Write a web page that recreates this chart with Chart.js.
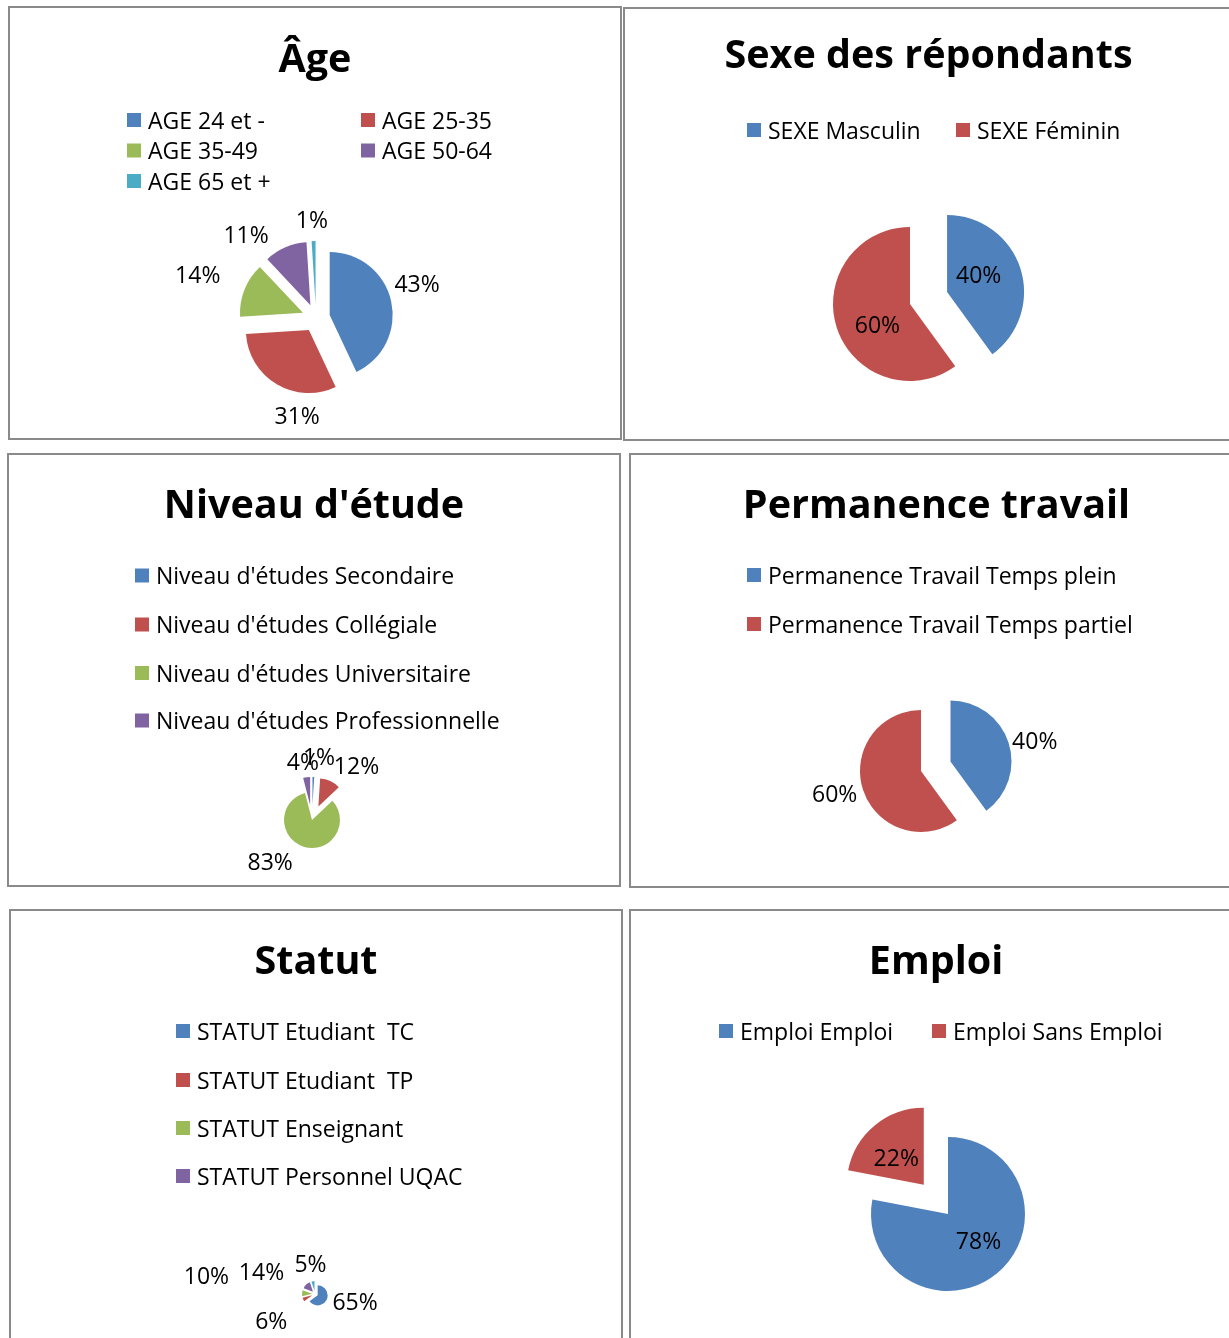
<!DOCTYPE html>
<html lang="fr">
<head>
  <meta charset="UTF-8">
  <title>Profil des répondants</title>
  <script src="https://cdn.jsdelivr.net/npm/chart.js"></script>
  <style>
    body { margin: 0; background: #fff; width: 1229px; height: 1338px; overflow: hidden; position: relative; }
    .panel { position: absolute; box-sizing: border-box; border: 2px solid #8a8a8a; background: #fff; }
    .panel canvas { position: absolute; left: 0; top: 0; }
  </style>
</head>
<body>
  <div class="panel" id="pAge" style="left:8px;top:6px;width:614px;height:434px"><canvas id="ageChart"></canvas></div>
  <div class="panel" id="pSexe" style="left:623px;top:7px;width:614px;height:434px"><canvas id="sexeChart"></canvas></div>
  <div class="panel" id="pNiveau" style="left:7px;top:453px;width:614px;height:434px"><canvas id="niveauChart"></canvas></div>
  <div class="panel" id="pPerm" style="left:629px;top:453px;width:614px;height:435px"><canvas id="permChart"></canvas></div>
  <div class="panel" id="pStatut" style="left:9px;top:909px;width:614px;height:440px"><canvas id="statutChart"></canvas></div>
  <div class="panel" id="pEmploi" style="left:629px;top:909px;width:614px;height:440px"><canvas id="emploiChart"></canvas></div>

<script>
  // values (percent)
  const ageLabels = ['AGE 24 et -', 'AGE 25-35', 'AGE 35-49', 'AGE 50-64', 'AGE 65 et +'];
  const ageValues = [43, 31, 14, 11, 1];

  const sexeLabels = ['SEXE Masculin', 'SEXE Féminin'];
  const sexeValues = [40, 60];

  const niveauLabels = ["Niveau d'études Secondaire", "Niveau d'études Collégiale",
                        "Niveau d'études Universitaire", "Niveau d'études Professionnelle"];
  const niveauValues = [1, 12, 83, 4];

  const permLabels = ['Permanence Travail Temps plein', 'Permanence Travail Temps partiel'];
  const permValues = [40, 60];

  // the fifth slice has no legend entry in the original
  const statutLabels = ['STATUT Etudiant  TC', 'STATUT Etudiant  TP', 'STATUT Enseignant', 'STATUT Personnel UQAC'];
  const statutValues = [65, 6, 10, 14, 5];

  const emploiLabels = ['Emploi Emploi', 'Emploi Sans Emploi'];
  const emploiValues = [78, 22];

  const palette = ['#4F81BD', '#C0504D', '#9BBB59', '#8064A2', '#4BACC6'];
  const FONT = '"Open Sans", Lato, sans-serif';

  // pulls slices away from the centre (Excel style explosion)
  const explodePlugin = {
    id: 'explode',
    beforeDatasetDraw(chart, args, opts) {
      const ctx = chart.ctx;
      args.meta.data.forEach((arc, i) => {
        const t = (opts.shift || [])[i] || 0;
        const mid = (arc.startAngle + arc.endAngle) / 2;
        ctx.save();
        ctx.translate(Math.cos(mid) * t, Math.sin(mid) * t);
        arc.draw(ctx, chart.chartArea);
        ctx.restore();
      });
      return false;
    }
  };

  // percent labels next to / inside the slices
  const pctPlugin = {
    id: 'pct',
    afterDatasetsDraw(chart, args, opts) {
      const ctx = chart.ctx;
      const meta = chart.getDatasetMeta(0);
      const values = chart.data.datasets[0].data;
      const total = values.reduce((a, b) => a + b, 0);
      const shift = chart.options.plugins.explode.shift || [];
      ctx.save();
      ctx.font = opts.size + 'px ' + FONT;
      ctx.fillStyle = '#000';
      ctx.textAlign = 'center';
      ctx.textBaseline = 'alphabetic';
      const capH = ctx.measureText('0').actualBoundingBoxAscent;
      meta.data.forEach((arc, i) => {
        const mid = (arc.startAngle + arc.endAngle) / 2;
        const dx = Math.cos(mid), dy = Math.sin(mid);
        const t = shift[i] || 0;
        const txt = Math.round(values[i] / total * 100) + '%';
        const w = ctx.measureText(txt).width;
        let x, y;
        if (opts.mode === 'inside') {
          const d = t + arc.outerRadius * opts.k;
          x = arc.x + dx * d;
          y = arc.y + dy * d;
        } else {
          const d = t + arc.outerRadius + opts.gap;
          x = arc.x + dx * d + dx * w / 2;
          y = arc.y + dy * d + dy * capH / 2;
        }
        // Excel "best fit" moves some labels around; small per-label nudges
        const n = (opts.nudge || [])[i] || [0, 0];
        ctx.fillText(txt, x + n[0], y + n[1] + capH / 2);
      });
      ctx.restore();
    }
  };

  // title and legend, drawn on the chart canvas
  const panelTextPlugin = {
    id: 'panelText',
    afterDraw(chart, args, opts) {
      const ctx = chart.ctx;
      const ox = opts.origin[0], oy = opts.origin[1];
      ctx.save();
      ctx.fillStyle = '#000';
      ctx.textBaseline = 'alphabetic';
      ctx.font = 'bold ' + opts.titleSize + 'px ' + FONT;
      ctx.textAlign = 'center';
      ctx.fillText(opts.title, opts.titleX - ox, opts.titleY - oy);

      ctx.font = opts.legendSize + 'px ' + FONT;
      ctx.textAlign = 'left';
      const capH = ctx.measureText('H').actualBoundingBoxAscent;
      const box = 14;
      const cols = opts.legendX.length;
      const colors = chart.data.datasets[0].backgroundColor;
      chart.data.labels.forEach((lab, i) => {
        const bx = opts.legendX[i % cols] - ox;
        const cy = opts.legendY[Math.floor(i / cols)] - oy;
        ctx.fillStyle = colors[i];
        ctx.fillRect(bx, cy - box / 2, box, box);
        ctx.fillStyle = '#000';
        ctx.fillText(lab, bx + box + 7, cy + capH / 2);
      });
      ctx.restore();
    }
  };

  const createPie = (id, panelId, labels, values, cfg) => {
    const panel = document.getElementById(panelId);
    const W = panel.clientWidth, H = panel.clientHeight;
    const ox = panel.offsetLeft + panel.clientLeft, oy = panel.offsetTop + panel.clientTop;
    const canvas = document.getElementById(id);
    canvas.width = W;
    canvas.height = H;
    const cx = cfg.center[0] - ox, cy = cfg.center[1] - oy;
    new Chart(canvas.getContext('2d'), {
      type: 'pie',
      data: {
        labels: labels,
        datasets: [{
          data: values,
          backgroundColor: palette.slice(0, values.length),
          borderWidth: 0
        }]
      },
      options: {
        responsive: false,
        animation: false,
        radius: cfg.radius,
        layout: {
          padding: {
            left: Math.max(0, 2 * cx - W), right: Math.max(0, W - 2 * cx),
            top: Math.max(0, 2 * cy - H), bottom: Math.max(0, H - 2 * cy)
          }
        },
        plugins: {
          legend: { display: false },
          tooltip: { enabled: false },
          explode: { shift: cfg.shift },
          pct: Object.assign({ size: 23, gap: 6, k: 0.5 }, cfg.pct),
          panelText: Object.assign({ origin: [ox, oy], titleSize: 39.5, legendSize: 23 }, cfg.text)
        }
      },
      plugins: [explodePlugin, pctPlugin, panelTextPlugin]
    });
  };

  window.onload = () => {
    createPie('ageChart', 'pAge', ageLabels, ageValues, {
      center: [316, 318], radius: 63, shift: [14, 14, 14, 14, 14],
      pct: { mode: 'outside', nudge: [[-2, -15], [35, 19], [-20, -10], [-28, 0], [-1, -7]] },
      text: { title: 'Âge', titleX: 315, titleY: 72, legendX: [127, 361], legendY: [120, 150.5, 181] }
    });
    createPie('sexeChart', 'pSexe', sexeLabels, sexeValues, {
      center: [910, 304], radius: 77, shift: [39, 0],
      pct: { mode: 'inside', k: 0.5, nudge: [[-5, -6], [4, 9]] },
      text: { title: 'Sexe des répondants', titleX: 928.5, titleY: 68, legendX: [747, 956], legendY: [130] }
    });
    createPie('niveauChart', 'pNiveau', niveauLabels, niveauValues, {
      center: [312, 820], radius: 28, shift: [15, 15, 0, 15],
      pct: { mode: 'outside', nudge: [[5, -6], [14, -2], [-26, 1], [-1, -1]] },
      text: { title: "Niveau d'étude", titleX: 314, titleY: 518, legendX: [135], legendY: [575.5, 624.5, 673, 720.5] }
    });
    createPie('permChart', 'pPerm', permLabels, permValues, {
      center: [921, 771], radius: 61, shift: [31, 0],
      pct: { mode: 'outside', nudge: [[-1, 2], [-1, -1]] },
      text: { title: 'Permanence travail', titleX: 936.5, titleY: 518, legendX: [747], legendY: [575, 624] }
    });
    createPie('statutChart', 'pStatut', statutLabels, statutValues, {
      center: [315, 1294], radius: 10, shift: [3, 3, 3, 3, 3],
      pct: { mode: 'outside', nudge: [[3, -5], [-12, 15], [-67, -17], [-25, -2], [1, -3]] },
      text: { title: 'Statut', titleX: 316, titleY: 974, legendX: [176], legendY: [1031, 1080, 1128, 1176] }
    });
    createPie('emploiChart', 'pEmploi', emploiLabels, emploiValues, {
      center: [948, 1214], radius: 77, shift: [0, 38],
      pct: { mode: 'inside', k: 0.52, nudge: [[5, -4], [-2, 4]] },
      text: { title: 'Emploi', titleX: 936, titleY: 974, legendX: [719, 932], legendY: [1031] }
    });
  };
</script>
</body>
</html>
